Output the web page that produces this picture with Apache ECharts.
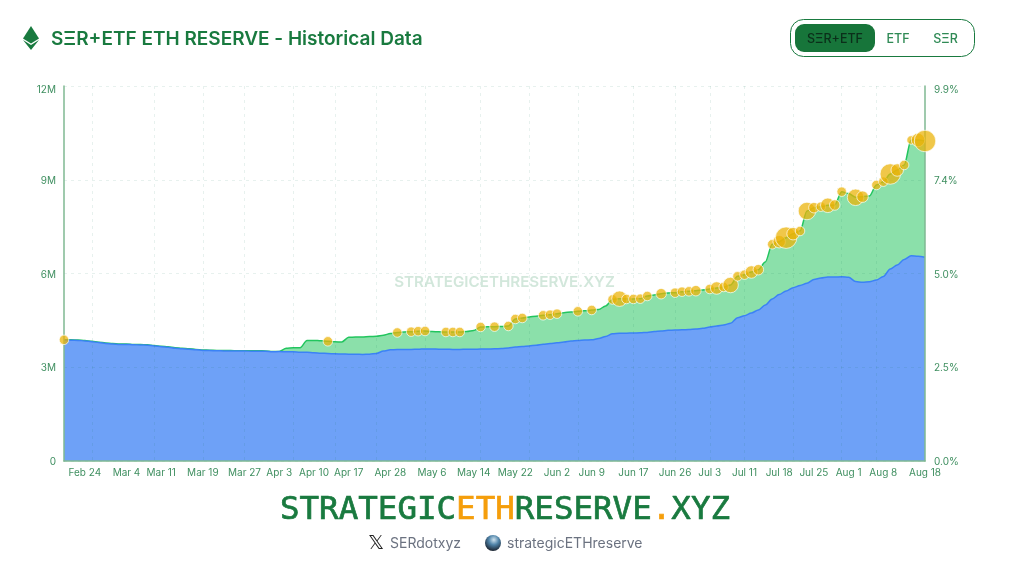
<!DOCTYPE html>
<html><head><meta charset="utf-8">
<style>html,body{margin:0;padding:0;background:#fff}#c{width:1009px;height:573px}</style>
<script src="https://cdn.jsdelivr.net/npm/echarts@6/dist/echarts.min.js"></script>
</head><body><div id="c"></div>
<script>
const categories = ["Feb 19","Feb 20","Feb 21","Feb 24","Feb 25","Feb 26","Feb 27","Feb 28","Mar 3","Mar 4","Mar 5","Mar 6","Mar 7","Mar 10","Mar 11","Mar 12","Mar 13","Mar 14","Mar 17","Mar 18","Mar 19","Mar 20","Mar 21","Mar 24","Mar 25","Mar 26","Mar 27","Mar 28","Mar 31","Apr 1","Apr 2","Apr 3","Apr 4","Apr 7","Apr 8","Apr 9","Apr 10","Apr 11","Apr 14","Apr 15","Apr 16","Apr 17","Apr 21","Apr 22","Apr 23","Apr 24","Apr 25","Apr 28","Apr 29","Apr 30","May 1","May 2","May 5","May 6","May 7","May 8","May 9","May 12","May 13","May 14","May 15","May 16","May 19","May 20","May 21","May 22","May 23","May 27","May 28","May 29","May 30","Jun 2","Jun 3","Jun 4","Jun 5","Jun 6","Jun 9","Jun 10","Jun 11","Jun 12","Jun 13","Jun 16","Jun 17","Jun 18","Jun 20","Jun 23","Jun 24","Jun 25","Jun 26","Jun 27","Jun 30","Jul 1","Jul 2","Jul 3","Jul 7","Jul 8","Jul 9","Jul 10","Jul 11","Jul 14","Jul 15","Jul 16","Jul 17","Jul 18","Jul 21","Jul 22","Jul 23","Jul 24","Jul 25","Jul 28","Jul 29","Jul 30","Jul 31","Aug 1","Aug 4","Aug 5","Aug 6","Aug 7","Aug 8","Aug 11","Aug 12","Aug 13","Aug 14","Aug 15","Aug 18"];
const totalReserve = [3.878,3.878,3.872,3.856,3.830,3.802,3.776,3.757,3.744,3.744,3.731,3.725,3.718,3.693,3.670,3.654,3.622,3.606,3.590,3.571,3.552,3.546,3.539,3.536,3.533,3.530,3.530,3.526,3.526,3.523,3.504,3.507,3.606,3.622,3.622,3.856,3.859,3.846,3.830,3.814,3.808,3.958,3.968,3.968,3.981,3.994,4.026,4.077,4.112,4.128,4.138,4.154,4.160,4.144,4.134,4.128,4.128,4.128,4.144,4.176,4.288,4.294,4.298,4.304,4.320,4.544,4.576,4.608,4.634,4.662,4.682,4.714,4.746,4.768,4.790,4.806,4.832,4.848,4.960,5.168,5.194,5.184,5.184,5.194,5.280,5.312,5.354,5.376,5.386,5.418,5.430,5.450,5.472,5.504,5.536,5.568,5.632,5.910,5.962,6.048,6.122,6.368,6.934,7.018,7.146,7.274,7.360,8.000,8.106,8.138,8.182,8.192,8.618,8.560,8.438,8.458,8.480,8.832,8.938,9.184,9.312,9.472,10.272,10.272,10.240];
const etfReserve = [3.866,3.866,3.860,3.844,3.818,3.790,3.764,3.745,3.732,3.732,3.719,3.713,3.706,3.681,3.658,3.642,3.610,3.594,3.578,3.559,3.540,3.534,3.527,3.524,3.521,3.518,3.518,3.514,3.514,3.511,3.496,3.501,3.498,3.498,3.482,3.478,3.466,3.450,3.440,3.430,3.424,3.418,3.414,3.411,3.418,3.443,3.520,3.558,3.565,3.568,3.571,3.574,3.587,3.584,3.578,3.574,3.571,3.571,3.574,3.574,3.584,3.584,3.590,3.597,3.619,3.648,3.664,3.680,3.706,3.738,3.757,3.782,3.808,3.840,3.856,3.872,3.878,3.920,3.984,4.070,4.086,4.090,4.096,4.102,4.115,4.144,4.160,4.182,4.192,4.198,4.205,4.224,4.246,4.288,4.320,4.352,4.406,4.586,4.650,4.736,4.832,4.992,5.184,5.328,5.440,5.546,5.616,5.686,5.808,5.856,5.888,5.888,5.894,5.878,5.744,5.718,5.738,5.792,5.904,6.144,6.272,6.448,6.570,6.550,6.518];
const buyDates = ["Feb 19","Apr 14","Apr 29","May 1","May 2","May 5","May 8","May 9","May 12","May 15","May 19","May 21","May 22","May 23","May 29","May 30","Jun 2","Jun 5","Jun 9","Jun 12","Jun 13","Jun 16","Jun 17","Jun 18","Jun 20","Jun 24","Jun 26","Jun 27","Jun 30","Jul 1","Jul 3","Jul 7","Jul 8","Jul 9","Jul 10","Jul 11","Jul 14","Jul 15","Jul 17","Jul 18","Jul 21","Jul 22","Jul 23","Jul 24","Jul 25","Jul 28","Jul 29","Jul 30","Jul 31","Aug 4","Aug 5","Aug 7","Aug 8","Aug 11","Aug 12","Aug 13","Aug 14","Aug 15","Aug 18"];
const buyAmounts = [64,64,64,64,64,64,64,64,64,64,64,64,64,64,64,64,64,64,64,64,196,64,64,64,64,81,64,64,64,81,64,121,64,196,64,64,121,81,64,121,400,121,64,256,81,64,169,81,64,225,100,64,64,361,121,64,49,144,400];
const tickDates = ["Feb 24","Mar 4","Mar 11","Mar 19","Mar 27","Apr 3","Apr 10","Apr 17","Apr 28","May 6","May 14","May 22","Jun 2","Jun 9","Jun 17","Jun 26","Jul 3","Jul 11","Jul 18","Jul 25","Aug 1","Aug 8","Aug 18"];
const gridDates = ["Feb 25","Mar 10","Mar 19","Mar 27","Apr 7","Apr 15","Apr 24","May 5","May 15","May 27","Jun 5","Jun 17","Jun 26","Jul 3","Jul 11","Jul 22","Jul 31","Aug 7"];
const leftTicks = ["0","3M","6M","9M","12M"];
const rightTicks = ["0.0%","2.5%","5.0%","7.4%","9.9%"];

const GREEN = "#197a3f", LBL = "#3f8f60", AXIS = "#7fb892", GRID = "rgba(20,120,90,0.1)", FONT = "Inter";
const chart = echarts.init(document.getElementById("c"));
const rightMax = 9.9;
const tickRich = {t:{fontSize:10,color:LBL,fontFamily:FONT,padding:[6,0,0,0]}};
chart.setOption({
  animation:false,
  backgroundColor:"#fff",
  textStyle:{fontFamily:FONT},
  grid:{left:64,right:84,top:86,bottom:112,containLabel:false},
  xAxis:{type:"category",data:categories,boundaryGap:false,z:4,
    axisLine:{show:true,lineStyle:{color:AXIS,width:1.5}},axisTick:{show:false},
    axisLabel:{color:LBL,fontSize:10,fontFamily:FONT,margin:7,
      interval:(i,v)=>tickDates.includes(v)},
    splitLine:{show:true,interval:(i,v)=>gridDates.includes(v),lineStyle:{color:GRID,type:[3,4],width:1}}},
  yAxis:[
    {type:"value",min:0,max:12,interval:3,position:"left",z:4,
     axisLine:{show:true,lineStyle:{color:AXIS,width:1.5}},axisTick:{show:false},
     axisLabel:{margin:8,fontSize:10,color:LBL,fontFamily:FONT,padding:[2,0,0,0],
       formatter:(v,i)=>i===4?"{t|"+leftTicks[i]+"}":leftTicks[i],rich:tickRich},
     splitLine:{show:true,lineStyle:{color:GRID,type:[3,4],width:1}}},
    {type:"value",min:0,max:rightMax,interval:rightMax/4,position:"right",z:4,
     axisLine:{show:true,lineStyle:{color:AXIS,width:1.5}},axisTick:{show:false},
     axisLabel:{margin:9,fontSize:10,color:LBL,fontFamily:FONT,padding:[2,0,0,0],
       formatter:(v,i)=>i===4?"{t|"+rightTicks[i]+"}":rightTicks[i],rich:tickRich},
     splitLine:{show:false}}
  ],
  series:[
    {name:"SER+ETF",type:"line",data:totalReserve,smooth:0.3,smoothMonotone:"x",symbol:"none",z:2,
     lineStyle:{color:"#22c55e",width:1.5},areaStyle:{color:"#8be0aa",opacity:1}},
    {name:"ETF",type:"line",data:etfReserve,smooth:0.3,smoothMonotone:"x",symbol:"none",z:3,
     lineStyle:{color:"#3b82f6",width:1.5},areaStyle:{color:"#6ea1f7",opacity:1}},
    {name:"Purchases",type:"scatter",z:5,clip:false,
     data:buyDates.map(d=>[d,totalReserve[categories.indexOf(d)]]),
     symbolSize:(v,p)=>Math.sqrt(buyAmounts[p.dataIndex])+1.5,
     itemStyle:{color:"rgba(234,179,8,0.92)",borderColor:"rgba(255,255,255,0.85)",borderWidth:1}}
  ],
  graphic:[
    {type:"polygon",silent:true,shape:{points:[[31,26],[39,38.5],[31,43.5],[23,38.5]]},style:{fill:GREEN}},
    {type:"polygon",silent:true,shape:{points:[[23,40],[31,45],[39,40],[31,50]]},style:{fill:GREEN}},
    {type:"text",silent:true,x:51,y:39,style:{text:"S\u039eR+ETF ETH RESERVE - Historical Data",fill:GREEN,font:"600 19px Inter",textVerticalAlign:"middle",textAlign:"left"}},
    {type:"rect",silent:true,shape:{x:790.5,y:19.5,width:184,height:37,r:13},style:{fill:"#fff",stroke:GREEN,lineWidth:1}},
    {type:"rect",silent:true,shape:{x:795,y:24,width:80,height:28,r:9},style:{fill:"#17753a"}},
    {type:"text",silent:true,x:835,y:39,style:{text:"S\u039eR+ETF",fill:"#0b2f1a",font:"500 12.5px Inter",textAlign:"center",textVerticalAlign:"middle"}},
    {type:"text",silent:true,x:898,y:39,style:{text:"ETF",fill:"#2f8a55",font:"500 12.5px Inter",textAlign:"center",textVerticalAlign:"middle"}},
    {type:"text",silent:true,x:945.5,y:39,style:{text:"S\u039eR",fill:"#2f8a55",font:"500 12.5px Inter",textAlign:"center",textVerticalAlign:"middle"}},
    {type:"text",silent:true,x:504.5,y:282,style:{text:"STRATEGICETHRESERVE.XYZ",fill:"#d2e7db",font:"600 15.2px Inter",textAlign:"center",textVerticalAlign:"middle"}},
    {type:"text",silent:true,x:505,y:511,style:{
      text:"{a|STRATEGIC}{b|ETH}{a|RESERVE}{b|.}{a|XYZ}",textAlign:"center",textVerticalAlign:"middle",
      rich:{a:{fill:GREEN,stroke:GREEN,lineWidth:0.7,font:"400 32.5px 'DejaVu Sans Mono'"},b:{fill:"#f59e0b",stroke:"#f59e0b",lineWidth:0.7,font:"400 32.5px 'DejaVu Sans Mono'"}}}},
    {type:"text",silent:true,x:376,y:544,style:{text:"\ud835\udd4f",fill:"#222",font:"20px 'DejaVu Sans'",textAlign:"center",textVerticalAlign:"middle"}},
    {type:"text",silent:true,x:390,y:544,style:{text:"SERdotxyz",fill:"#6b7280",font:"400 14px Inter",textAlign:"left",textVerticalAlign:"middle"}},
    {type:"circle",silent:true,shape:{cx:493,cy:543,r:8},style:{fill:new echarts.graphic.RadialGradient(0.55,0.3,0.7,[{offset:0,color:"#cfe3ee"},{offset:0.45,color:"#4f83a8"},{offset:1,color:"#1c2430"}])}},
    {type:"text",silent:true,x:507,y:544,style:{text:"strategicETHreserve",fill:"#6b7280",font:"400 14px Inter",textAlign:"left",textVerticalAlign:"middle"}}
  ]
});
</script></body></html>
